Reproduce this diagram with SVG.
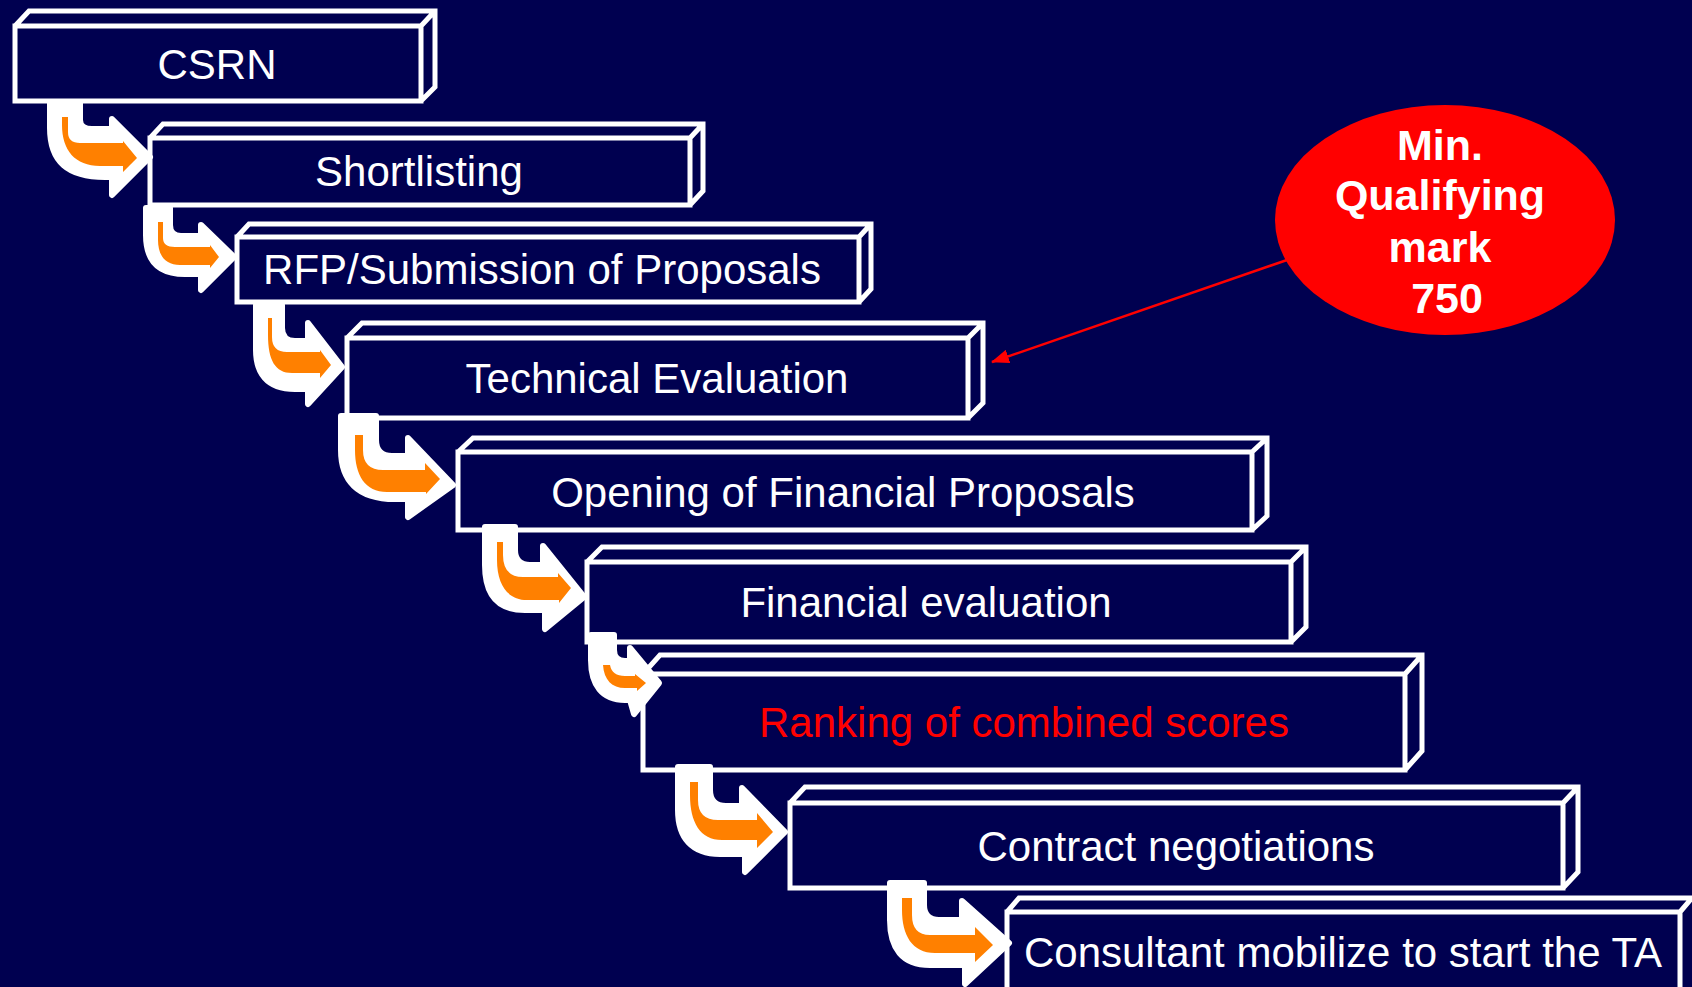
<svg xmlns="http://www.w3.org/2000/svg" width="1692" height="987" viewBox="0 0 1692 987">
<defs>
<style>
.box{fill:#000050;stroke:#fff;stroke-width:5;stroke-linejoin:miter}
.lbl{font-family:"Liberation Sans",Arial,sans-serif;font-size:42px;fill:#fff;text-anchor:middle}
.red{fill:#ff0000}
.aw{fill:#fff;stroke:#fff;stroke-width:6;stroke-linejoin:round}
.ao{fill:#ff8000}
.el{font-family:"Liberation Sans",Arial,sans-serif;font-size:43px;font-weight:bold;fill:#fff;text-anchor:middle}
</style>
<marker id="rh" viewBox="0 0 18 14" refX="17" refY="7" markerWidth="18" markerHeight="14" markerUnits="userSpaceOnUse" orient="auto">
<path d="M0,0 L18,7 L0,14 Z" fill="#ff0000"/>
</marker>
</defs>
<rect width="1692" height="987" fill="#000050"/>

<g id="n1"><path class="box" d="M15,26 H421 V101 H15 Z M15,26 L29,11 H435 V87 L421,101 M421,26 L435,11"/><text class="lbl" x="217" y="79">CSRN</text></g>
<g id="n2"><path class="box" d="M150,138 H690 V205 H150 Z M150,138 L163,124 H703 V191 L690,205 M690,138 L703,124"/><text class="lbl" x="419" y="186">Shortlisting</text></g>
<g id="n3"><path class="box" d="M237,237 H859 V302 H237 Z M237,237 L249,224 H871 V289 L859,302 M859,237 L871,224"/><text class="lbl" x="542" y="284">RFP/Submission of Proposals</text></g>
<g id="n4"><path class="box" d="M347,338 H968 V418 H347 Z M347,338 L362,323 H983 V403 L968,418 M968,338 L983,323"/><text class="lbl" x="657" y="393">Technical Evaluation</text></g>
<g id="n5"><path class="box" d="M458,452 H1252 V530 H458 Z M458,452 L473,438 H1267 V516 L1252,530 M1252,452 L1267,438"/><text class="lbl" x="843" y="507">Opening of Financial Proposals</text></g>
<g id="n6"><path class="box" d="M587,562 H1291 V642 H587 Z M587,562 L602,547 H1306 V627 L1291,642 M1291,562 L1306,547"/><text class="lbl" x="926" y="617">Financial evaluation</text></g>
<g id="n7"><path class="box" d="M643,674 H1405 V770 H643 Z M643,674 L660,655 H1422 V751 L1405,770 M1405,674 L1422,655"/><text class="lbl red" x="1024" y="737">Ranking of combined scores</text></g>
<g id="n8"><path class="box" d="M790,803 H1563 V888 H790 Z M790,803 L805,787 H1578 V872 L1563,888 M1563,803 L1578,787"/><text class="lbl" x="1176" y="861">Contract negotiations</text></g>
<g id="n9"><path class="box" d="M1007,912 H1680 V1000 H1007 Z M1007,912 L1019,898 H1692 M1680,912 L1692,898"/><text class="lbl" x="1343" y="967">Consultant mobilize to start the TA</text></g>

<g id="connectors">
<g id="a1"><path class="aw" d="M50,103 L80,103 L80,120 Q80,129 92,129 L112,129 L112,119 L150,157 L112,195 L112,177 L105,177 C68,177 50,162 50,128 Z"/><path class="ao" d="M62,117 L68,117 L68,132 Q68,143 80,143 L123,143 L123,141 L137,158 L123,172 L123,166 L100,166 C75,166 62,150 62,125 Z"/></g>
<g id="a2"><path class="aw" d="M146,208 L170,208 L170,225 Q170,236 181,236 L201,236 L201,225 L234,257 L201,290 L201,274 L185,274 C157,274 146,260 146,235 Z"/><path class="ao" d="M158,222 L163,222 L163,238 Q163,247 175,247 L210,247 L210,245 L219,257 L210,268 L210,265 L180,265 C165,265 158,255 158,240 Z"/></g>
<g id="a3"><path class="aw" d="M256,305 L282,305 L282,328 Q282,341 295,341 L308,341 L308,323 L342,367 L308,404 L308,389 L295,389 C266,389 256,372 256,350 Z"/><path class="ao" d="M268,318 L272,318 L272,337 Q272,352 287,352 L320,352 L320,350 L331,365 L320,378 L320,373 L292,373 C275,373 268,360 268,335 Z"/></g>
<g id="a4"><path class="aw" d="M341,416 L376,416 L376,440 Q376,456 392,456 L408,456 L408,438 L453,485 L408,517 L408,499 L395,499 C357,499 341,480 341,450 Z"/><path class="ao" d="M355,435 L363,435 L363,450 Q363,470 383,470 L425,470 L425,463 L440,479 L426,494 L426,492 L387,492 C365,492 355,475 355,450 Z"/></g>
<g id="a5"><path class="aw" d="M485,527 L515,527 L515,550 Q515,565 530,565 L543,565 L543,546 L584,597 L545,629 L545,610 L525,610 C497,610 485,595 485,565 Z"/><path class="ao" d="M497,542 L503,542 L503,555 Q503,577 523,577 L558,577 L558,573 L571,588 L559,603 L559,600 L527,600 C508,600 497,585 497,560 Z"/></g>
<g id="a6"><path class="aw" d="M591,635 L614,635 L614,650 Q614,661 625,661 L630,661 L630,648 L659,683 L634,714 L630,700 L625,700 C602,700 591,685 591,660 Z"/><path class="ao" d="M603,665 L610,665 Q612,676 625,676 L635,676 L635,674 L646,683 L637,691 L637,688 L625,688 C612,688 604,680 603,665 Z"/></g>
<g id="a7"><path class="aw" d="M678,767 L710,767 L710,790 Q710,806 726,806 L742,806 L742,788 L785,832 L745,872 L745,854 L720,854 C692,854 678,838 678,810 Z"/><path class="ao" d="M690,782 L698,782 L698,800 Q698,820 718,820 L757,820 L757,813 L773,832 L757,848 L757,840 L722,840 C700,840 690,822 690,795 Z"/></g>
<g id="a8"><path class="aw" d="M890,883 L924,883 L924,905 Q924,920 939,920 L962,920 L962,901 L1009,943 L965,984 L965,965 L930,965 C902,965 890,948 890,920 Z"/><path class="ao" d="M902,898 L912,898 L912,915 Q912,935 930,935 L975,935 L975,927 L993,945 L975,962 L975,953 L935,953 C912,953 902,935 902,910 Z"/></g>
<line id="redline" x1="1287" y1="260" x2="992" y2="362" stroke="#ff0000" stroke-width="2.5" marker-end="url(#rh)"/>
</g>

<g id="callout">
<ellipse cx="1445" cy="220" rx="170" ry="115" fill="#ff0000"/>
<text class="el" x="1440" y="160">Min.</text>
<text class="el" x="1440" y="210">Qualifying</text>
<text class="el" x="1440" y="262">mark</text>
<text class="el" x="1447" y="313">750</text>
</g>
</svg>
